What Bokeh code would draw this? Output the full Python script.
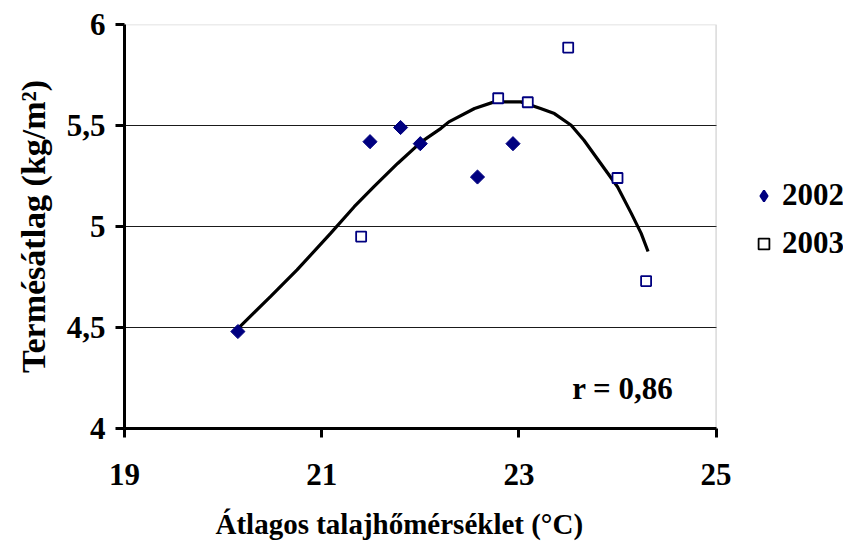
from bokeh.plotting import figure
from bokeh.models import (ColumnDataSource, Legend, LegendItem, Label, FixedTicker,
                          CustomJSTickFormatter, Range1d, BoxAnnotation, Title)
from bokeh.embed import file_html
from bokeh.resources import INLINE

# ---- data ----
x_2002 = [20.15, 21.49, 21.80, 22.00, 22.58, 22.94]
y_2002 = [4.48, 5.42, 5.49, 5.41, 5.245, 5.41]

x_2003 = [21.40, 22.79, 23.09, 23.50, 24.00, 24.29]
y_2003 = [4.95, 5.635, 5.615, 5.886, 5.24, 4.73]

# trend curve
trend_x = [20.14, 20.48, 20.75, 21.09, 21.33, 21.53, 21.77, 22.01, 22.21, 22.29,
           22.55, 22.75, 23.02, 23.22, 23.36, 23.53, 23.66, 23.83, 24.00, 24.14,
           24.24, 24.31]
trend_y = [4.489, 4.653, 4.785, 4.966, 5.098, 5.197, 5.312, 5.419, 5.486, 5.518,
           5.584, 5.617, 5.617, 5.584, 5.559, 5.501, 5.427, 5.312, 5.197, 5.065,
           4.966, 4.876]

x_min, x_max = 19, 25
y_min, y_max = 4, 6
x_ticks = [19, 21, 23, 25]
y_ticks = [4, 4.5, 5, 5.5, 6]
grid_lines = [4.5, 5, 5.5]
r_text = "r = 0,86"
x_title = "Átlagos talajhőmérséklet (°C)"
y_title = "Termésátlag (kg/m²)"
series_names = ["2002", "2003"]

FONT = "Liberation Serif"

# the frame is widened to the right so that the legend (outside the plot
# area in the reference) can be drawn; the plot area itself ends at x_max
PX_PER_UNIT = 98.6
FRAME_W = 719
p = figure(width=845, height=557, output_backend="svg", toolbar_location=None,
           x_range=Range1d(x_min, x_min + FRAME_W / PX_PER_UNIT),
           y_range=Range1d(y_min, y_max),
           min_border_left=124, min_border_right=2, min_border_top=24,
           min_border_bottom=128)
p.background_fill_color = "white"
p.border_fill_color = "white"
p.outline_line_color = None

# plot area border (gray top / right edges)
p.add_layout(BoxAnnotation(left=x_min, right=x_max, bottom=y_min, top=y_max,
                           fill_alpha=0, line_color="#808080", line_width=1.5,
                           level="underlay"))

# grid
p.xgrid.visible = False
p.ygrid.ticker = FixedTicker(ticks=grid_lines)
p.ygrid.grid_line_color = "#1a1a1a"
p.ygrid.grid_line_width = 1
try:
    p.ygrid.cross_bounds = (x_min, x_max)
except Exception:
    p.ygrid.visible = False
    p.segment(x0=[x_min] * len(grid_lines), x1=[x_max] * len(grid_lines),
              y0=grid_lines, y1=grid_lines, line_color="#1a1a1a", line_width=1)

fmt = CustomJSTickFormatter(code="return String(tick).replace('.', ',');")
for ax, ticks in ((p.xaxis[0], x_ticks), (p.yaxis[0], y_ticks)):
    ax.ticker = FixedTicker(ticks=ticks)
    ax.formatter = fmt
    ax.axis_line_color = "black"
    ax.axis_line_width = 3
    ax.major_tick_line_color = "black"
    ax.major_tick_line_width = 3
    ax.major_tick_out = 9
    ax.major_tick_in = 0
    ax.minor_tick_line_color = None
    ax.major_label_text_font = FONT
    ax.major_label_text_font_style = "bold"
    ax.major_label_text_font_size = "31px"
    ax.major_label_text_color = "black"
    ax.axis_label_text_font = FONT
    ax.axis_label_text_font_style = "bold"
    ax.axis_label_text_color = "black"

p.xaxis.bounds = (x_min, x_max)
p.yaxis.axis_label = y_title
p.yaxis.axis_label_text_font_size = "34px"
p.xaxis.major_label_standoff = 26
p.yaxis.major_label_standoff = 10
p.yaxis.axis_label_standoff = 12

# x-axis title, positioned as in the reference (left of the frame centre)
p.add_layout(Title(text=x_title, align="left", offset=91, standoff=36,
                   text_font=FONT, text_font_style="bold", text_font_size="29px",
                   text_color="black"), "below")

src02 = ColumnDataSource(dict(x=x_2002, y=y_2002))
src03 = ColumnDataSource(dict(x=x_2003, y=y_2003))
srct = ColumnDataSource(dict(x=trend_x, y=trend_y))

p.line("x", "y", source=srct, line_color="black", line_width=3.2)
r02 = p.scatter("x", "y", source=src02, marker="square", angle=0.785398, size=10,
                fill_color="#000080", line_color="#000080", line_width=1)
r03 = p.scatter("x", "y", source=src03, marker="square", size=10,
                fill_color="white", line_color="#000080", line_width=1.8)

# hidden renderers that only provide the legend swatches
r02_leg = p.scatter("x", "y", source=src02, marker="diamond", fill_color="#000080",
                    line_color="#000080", line_width=2, visible=False)
r03_leg = p.scatter("x", "y", source=src03, marker="square", fill_color="white",
                    line_color="black", line_width=1.8, visible=False)

legend = Legend(items=[LegendItem(label=series_names[0], renderers=[r02_leg]),
                       LegendItem(label=series_names[1], renderers=[r03_leg])],
                location=(626, 167), orientation="vertical",
                label_text_font=FONT, label_text_font_style="bold",
                label_text_font_size="31px", label_text_color="black",
                glyph_width=27, glyph_height=27, label_height=27,
                label_standoff=5, spacing=12, padding=0, margin=0,
                inactive_fill_alpha=0,
                border_line_color=None, background_fill_alpha=0)
p.add_layout(legend)

p.add_layout(Label(x=23.54, y=4.2, text=r_text, text_font=FONT,
                   text_font_style="bold", text_font_size="31px",
                   text_color="black", text_baseline="alphabetic"))

open("out.html", "w").write(file_html(p, INLINE))
